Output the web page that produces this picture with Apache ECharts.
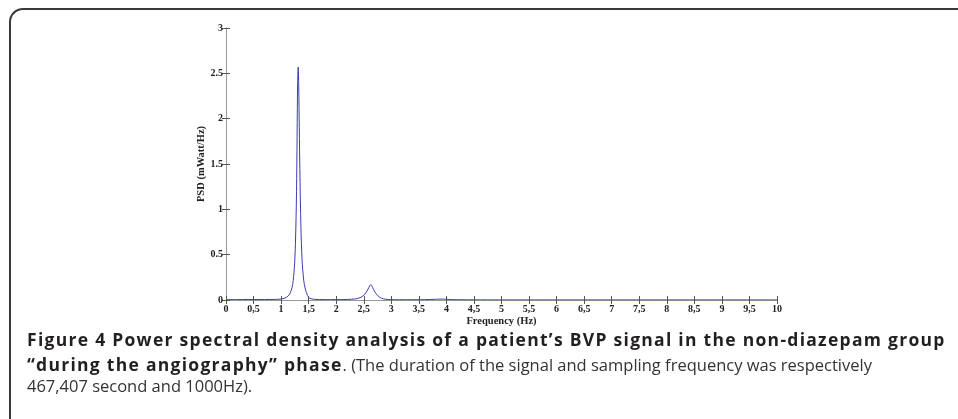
<!DOCTYPE html>
<html>
<head>
<meta charset="utf-8">
<script src="https://cdn.jsdelivr.net/npm/echarts@6/dist/echarts.min.js"></script>
<style>
  html, body { margin: 0; padding: 0; background: #fff; }
  #wrap { position: relative; width: 958px; height: 419px; overflow: hidden; }
  #frame {
    position: absolute; left: 9px; top: 8px; width: 1100px; height: 600px;
    border-top: 2px solid #3a3a3a; border-left: 2px solid #3a3a3a;
    border-top-left-radius: 14px; box-sizing: border-box;
  }
  #chart { position: absolute; left: 0; top: 0; width: 958px; height: 419px; }
  .cap {
    position: absolute; left: 27px; font-family: 'Open Sans', sans-serif;
    font-size: 16.5px; color: #333; white-space: nowrap; line-height: 22px;
  }
  .cap b { color: #231f20; font-size: 17.5px; letter-spacing: 1.28px; }
</style>
</head>
<body>
<div id="wrap">
  <div id="frame"></div>
  <div id="chart"></div>
  <div class="cap" style="top:328px"><b>Figure 4 Power spectral density analysis of a patient’s BVP signal in the non-diazepam group</b></div>
  <div class="cap" style="top:353px"><b>“during the angiography” phase</b>. (The duration of the signal and sampling frequency was respectively</div>
  <div class="cap" style="top:375px">467,407 second and 1000Hz).</div>
</div>
<script>
// frequency (Hz)
const freq = [0, 0.2, 0.4, 0.6, 0.8, 1.0, 1.1, 1.15, 1.18, 1.21, 1.24, 1.26, 1.28, 1.30, 1.31, 1.32, 1.34, 1.36, 1.38, 1.41, 1.44, 1.48, 1.52, 1.6, 1.8, 2.0, 2.2, 2.35, 2.45, 2.52, 2.57, 2.61, 2.63, 2.66, 2.70, 2.75, 2.82, 2.9, 3.0, 3.3, 3.6, 3.8, 3.9, 4.0, 4.1, 4.5, 5, 6, 7, 8, 9, 10]
// PSD (mWatt/Hz)
const psd = [0.005, 0.004, 0.006, 0.005, 0.006, 0.01, 0.03, 0.06, 0.10, 0.17, 0.35, 0.62, 1.20, 2.40, 2.57, 2.35, 1.45, 0.80, 0.45, 0.22, 0.12, 0.05, 0.02, 0.008, 0.004, 0.004, 0.006, 0.012, 0.03, 0.065, 0.11, 0.16, 0.17, 0.14, 0.09, 0.05, 0.02, 0.008, 0.004, 0.003, 0.004, 0.008, 0.01, 0.008, 0.004, 0.002, 0.001, 0.001, 0.001, 0.001, 0.001, 0.001]

const labelFont = { fontFamily: 'Liberation Serif', fontWeight: 'bold', fontSize: 10, color: '#222' }
const nameFont = { fontFamily: 'Liberation Serif', fontWeight: 'bold', fontSize: 10.5, color: '#222' }
const axisLine = { show: true, lineStyle: { color: '#999', width: 1 } }
const tick = { show: true, inside: true, length: 4, lineStyle: { color: '#555' } }

const chart = echarts.init(document.getElementById('chart'))
chart.setOption({
  animation: false,
  grid: { left: 226, right: 181, top: 28, bottom: 119 },
  xAxis: [{
    type: 'value', min: 0, max: 10, interval: 0.5,
    name: 'Frequency (Hz)', nameLocation: 'middle', nameGap: 16, nameMoveOverlap: false,
    nameTextStyle: nameFont,
    axisLine: axisLine, axisTick: tick, splitLine: { show: false },
    axisLabel: Object.assign({ margin: 4, formatter: v => String(v).replace('.', ',') }, labelFont)
  }, {
    type: 'value', min: 0, max: 10, interval: 0.5, position: 'top',
    axisLine: axisLine, axisTick: tick, splitLine: { show: false }, axisLabel: { show: false }
  }],
  yAxis: [{
    type: 'value', min: 0, max: 3, interval: 0.5,
    name: 'PSD (mWatt/Hz)', nameLocation: 'middle', nameGap: 19, nameMoveOverlap: false,
    nameTextStyle: nameFont,
    axisLine: axisLine, axisTick: tick, splitLine: { show: false },
    axisLabel: Object.assign({ margin: 3 }, labelFont)
  }, {
    type: 'value', min: 0, max: 3, interval: 0.5, position: 'right',
    axisLine: axisLine, axisTick: tick, splitLine: { show: false }, axisLabel: { show: false }
  }],
  series: [{
    type: 'line', showSymbol: false, smooth: 0.3,
    data: freq.map((f, i) => [f, psd[i]]),
    lineStyle: { color: '#3c3cb4', width: 1 }
  }]
})
</script>
</body>
</html>
